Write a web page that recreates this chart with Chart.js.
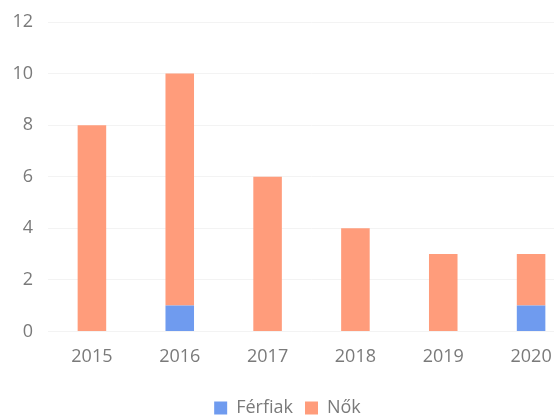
<!DOCTYPE html>
<html>
<head>
<meta charset="utf-8">
<script src="https://cdn.jsdelivr.net/npm/chart.js@4/dist/chart.umd.min.js"></script>
<style>
  html,body{margin:0;padding:0;background:#fff;overflow:hidden;}
  #wrap{width:554px;height:416px;overflow:hidden;}
  #box{width:580px;height:416px;}
</style>
</head>
<body>
<div id="wrap"><div id="box"><canvas id="c"></canvas></div></div>
<script>
const years   = ['2015','2016','2017','2018','2019','2020'];
const ferfiak = [0, 1, 0, 0, 0, 1];
const nok     = [8, 9, 6, 4, 3, 2];
const yTicks  = [0, 2, 4, 6, 8, 10, 12];

const txt = '#7a7a7a';
const font = {family:'"Open Sans", sans-serif', size:18};

new Chart(document.getElementById('c'), {
  type:'bar',
  data:{
    labels: years,
    datasets:[
      {label:'Férfiak', data:ferfiak, backgroundColor:'#6f9bef', barPercentage:0.65, categoryPercentage:0.5},
      {label:'Nők', data:nok, backgroundColor:'#ff9c7b', barPercentage:0.65, categoryPercentage:0.5}
    ]
  },
  options:{
    responsive:true, maintainAspectRatio:false, animation:false,
    layout:{padding:{top:22, right:5, left:0, bottom:-11}},
    plugins:{
      legend:{position:'bottom', labels:{color:txt, font, boxWidth:13, boxHeight:13, padding:12}},
      tooltip:{enabled:false}
    },
    scales:{
      x:{stacked:true, grid:{display:false}, border:{display:false},
         afterFit: ax => { ax.height += 12; },
         ticks:{color:txt, font, padding:7}},
      y:{stacked:true, min:0, max:12, border:{display:false},
         grid:{color:'#f3f3f3', drawTicks:false},
         afterBuildTicks: ax => { ax.ticks = yTicks.map(v=>({value:v})); },
         afterFit: ax => { ax.width = 48; ax.paddingTop = 0; },
         ticks:{color:txt, font:{...font, lineHeight:1}, padding:15}}
    }
  }
});
</script>
</body>
</html>
